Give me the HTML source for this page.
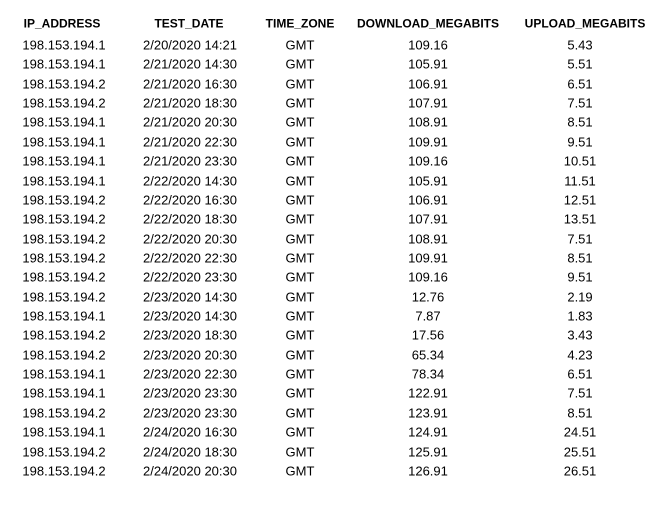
<!DOCTYPE html>
<html><head><meta charset="utf-8"><style>
html,body{margin:0;padding:0;background:#fff;width:669px;height:521px;overflow:hidden}
#t{position:relative;width:669px;height:521px;font-family:"Liberation Sans",sans-serif;font-size:13px;color:#000}
.c{position:absolute;transform:translate(-50%,-50%);white-space:nowrap;line-height:15px}
.h{font-weight:bold;font-size:12px}
</style></head><body>
<div id="t"></div>
<script>
const headers=["IP_ADDRESS","TEST_DATE","TIME_ZONE","DOWNLOAD_MEGABITS","UPLOAD_MEGABITS"];
const ips=["198.153.194.1","198.153.194.1","198.153.194.2","198.153.194.2","198.153.194.1","198.153.194.1","198.153.194.1","198.153.194.1","198.153.194.2","198.153.194.2","198.153.194.2","198.153.194.2","198.153.194.2","198.153.194.2","198.153.194.1","198.153.194.2","198.153.194.2","198.153.194.1","198.153.194.1","198.153.194.2","198.153.194.1","198.153.194.2","198.153.194.2"];
const dates=["2/20/2020 14:21","2/21/2020 14:30","2/21/2020 16:30","2/21/2020 18:30","2/21/2020 20:30","2/21/2020 22:30","2/21/2020 23:30","2/22/2020 14:30","2/22/2020 16:30","2/22/2020 18:30","2/22/2020 20:30","2/22/2020 22:30","2/22/2020 23:30","2/23/2020 14:30","2/23/2020 14:30","2/23/2020 18:30","2/23/2020 20:30","2/23/2020 22:30","2/23/2020 23:30","2/23/2020 23:30","2/24/2020 16:30","2/24/2020 18:30","2/24/2020 20:30"];
const downloads=["109.16","105.91","106.91","107.91","108.91","109.91","109.16","105.91","106.91","107.91","108.91","109.91","109.16","12.76","7.87","17.56","65.34","78.34","122.91","123.91","124.91","125.91","126.91"];
const uploads=["5.43","5.51","6.51","7.51","8.51","9.51","10.51","11.51","12.51","13.51","7.51","8.51","9.51","2.19","1.83","3.43","4.23","6.51","7.51","8.51","24.51","25.51","26.51"];
const t=document.getElementById('t');
const hx=[62,189,300,428,585], dx=[64,190,300,428,580];
function cell(txt,x,y,cls,name){
  const d=document.createElement('div');
  d.className='c '+cls;d.style.left=x+'px';d.style.top=y+'px';d.textContent=txt;
  
  
  t.appendChild(d);
}
headers.forEach((h,i)=>cell(h,hx[i],24,'h','header-'+h.toLowerCase().replace(/_/g,'-')));
ips.forEach((ip,r)=>{
  const y=45+r*19.36;
  cell(ip,dx[0],y,'','ip-cell');
  cell(dates[r],dx[1],y,'','date-cell');
  cell("GMT",dx[2],y,'','timezone-cell');
  cell(downloads[r],dx[3],y,'','download-cell');
  cell(uploads[r],dx[4],y,'','upload-cell');
});
</script>
</body></html>
